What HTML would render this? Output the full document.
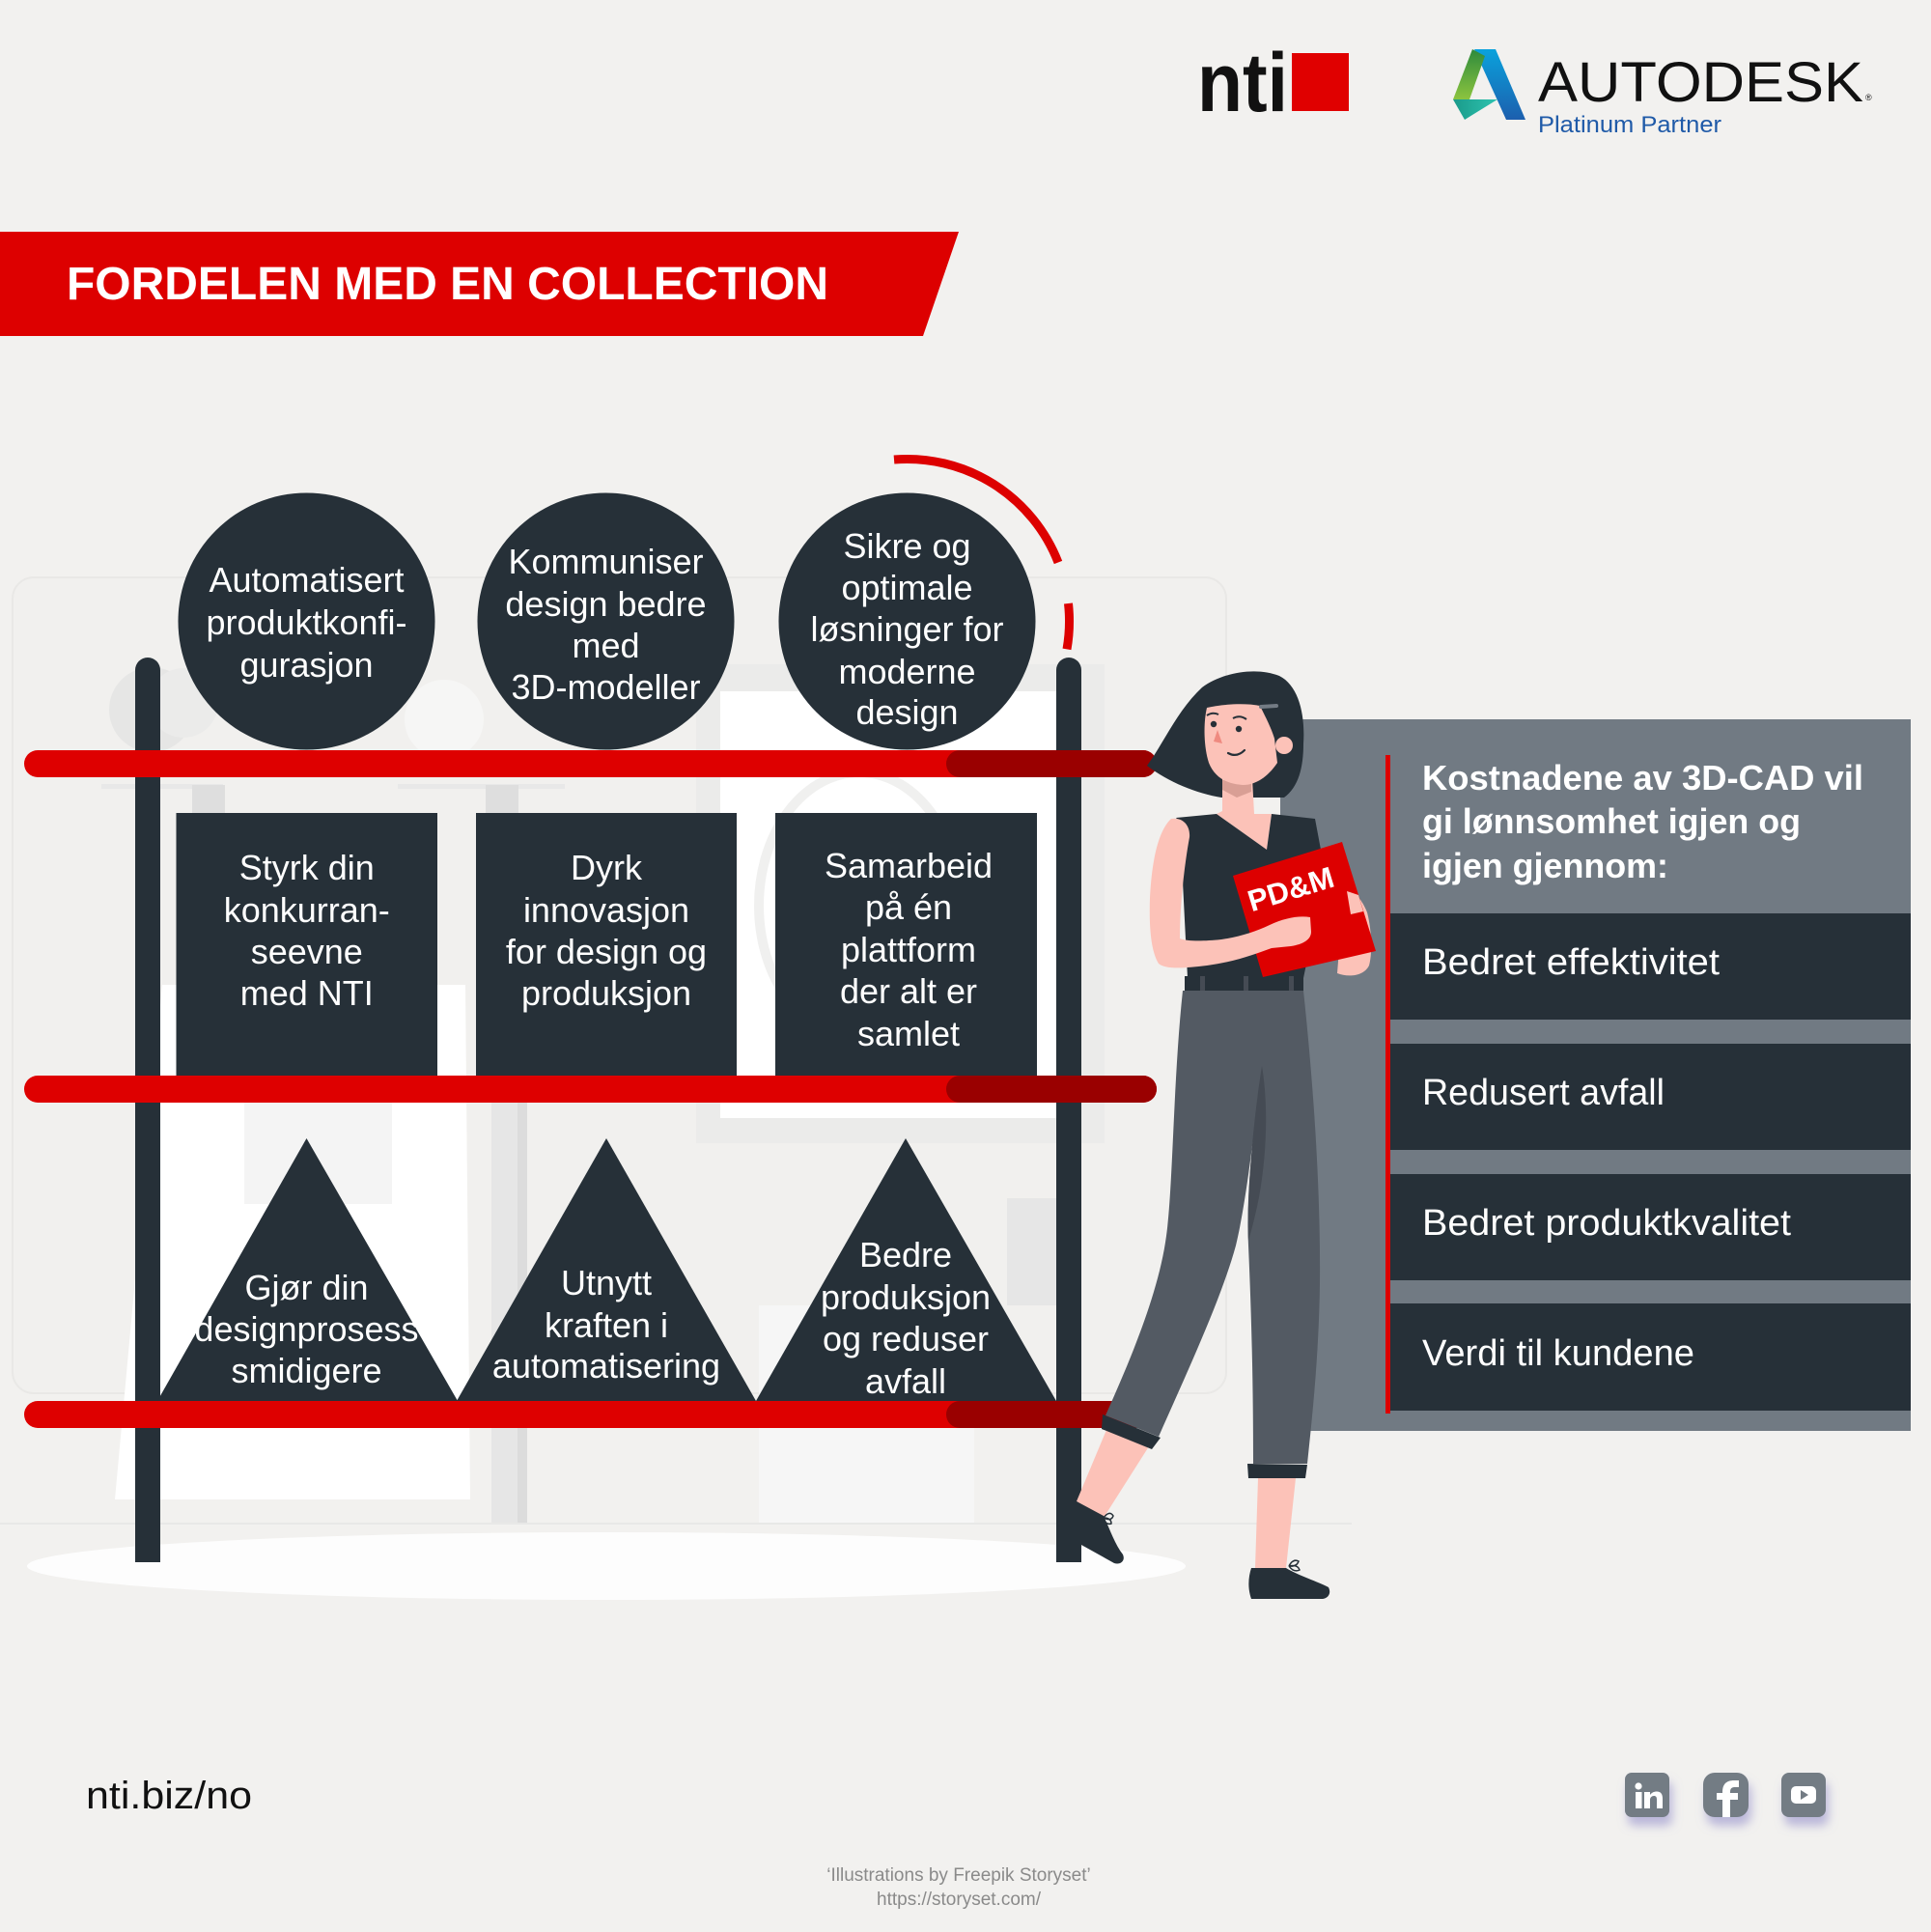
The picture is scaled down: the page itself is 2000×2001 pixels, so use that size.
<!DOCTYPE html>
<html>
<head>
<meta charset="utf-8">
<style>
html,body{margin:0;padding:0;background:#f2f1ef;}
svg{display:block;}
text{font-family:"Liberation Sans", "DejaVu Sans", sans-serif;}
</style>
</head>
<body>
<svg width="2000" height="2001" viewBox="0 0 2000 2001" xmlns="http://www.w3.org/2000/svg">
<defs>
  <linearGradient id="gBlue" x1="0" y1="0" x2="0" y2="1">
    <stop offset="0" stop-color="#0aa2dc"/>
    <stop offset="1" stop-color="#1c5fae"/>
  </linearGradient>
  <linearGradient id="gGreen" x1="0" y1="0" x2="0" y2="1">
    <stop offset="0" stop-color="#2e8a3c"/>
    <stop offset="1" stop-color="#8cc43f"/>
  </linearGradient>
  <linearGradient id="gTeal" x1="0" y1="0" x2="1" y2="0">
    <stop offset="0" stop-color="#1a9a8a"/>
    <stop offset="1" stop-color="#2ec4b0"/>
  </linearGradient>
  <filter id="sh" x="-50%" y="-50%" width="200%" height="220%">
    <feGaussianBlur in="SourceAlpha" stdDeviation="5"/>
    <feOffset dx="3" dy="9" result="b"/>
    <feFlood flood-color="#8d88c8" flood-opacity="0.55"/>
    <feComposite in2="b" operator="in"/>
    <feMerge><feMergeNode/><feMergeNode in="SourceGraphic"/></feMerge>
  </filter>
</defs>

<rect x="0" y="0" width="2000" height="2001" fill="#f2f1ef"/>

<!-- ===== Header logos ===== -->
<text x="1240" y="115" font-size="86" font-weight="bold" fill="#111" textLength="94" lengthAdjust="spacingAndGlyphs">nti</text>
<rect x="1338" y="55" width="59" height="60" fill="#e00000"/>

<polygon points="1527,51 1549,51 1580,124 1560,124" fill="url(#gBlue)"/>
<polygon points="1525,51 1538,58 1522,103 1505,103" fill="url(#gGreen)"/>
<polygon points="1505,103 1551,103 1517,124" fill="url(#gTeal)"/>
<text x="1593" y="105" font-size="58" fill="#111" textLength="337" lengthAdjust="spacingAndGlyphs">AUTODESK</text>
<text x="1932" y="104" font-size="9" fill="#111">®</text>
<text x="1593" y="137" font-size="24" fill="#1f5aa8" textLength="190" lengthAdjust="spacingAndGlyphs">Platinum Partner</text>

<!-- ===== Banner ===== -->
<polygon points="0,240 993,240 956,348 0,348" fill="#dd0000"/>
<text x="69" y="310" font-size="48" font-weight="bold" fill="#ffffff" textLength="789" lengthAdjust="spacingAndGlyphs">FORDELEN MED EN COLLECTION</text>

<!-- ===== Background illustration (faint) ===== -->
<rect x="13" y="598" width="1257" height="845" rx="22" fill="#f1f0ee" stroke="#e9e8e6" stroke-width="2"/>
<rect x="721" y="688" width="423" height="496" fill="#ebebea"/>
<rect x="746" y="716" width="349" height="442" fill="#ffffff"/>
<ellipse cx="890" cy="938" rx="104" ry="138" fill="none" stroke="#f0f0ef" stroke-width="10"/>
<circle cx="157" cy="735" r="44" fill="#e6e6e5"/>
<circle cx="190" cy="728" r="36" fill="#ebebea"/>
<circle cx="460" cy="745" r="41" fill="#f6f6f5"/>
<rect x="105" y="812" width="126" height="5" fill="#e8e8e8"/>
<rect x="199" y="813" width="34" height="29" fill="#dedede"/>
<rect x="412" y="812" width="173" height="5" fill="#e8e8e8"/>
<rect x="503" y="813" width="34" height="29" fill="#dedede"/>
<polygon points="168,1020 482,1020 487,1553 119,1553" fill="#ffffff"/>
<rect x="253" y="1142" width="153" height="105" fill="#f4f4f4"/>
<rect x="509" y="1142" width="37" height="436" fill="#e6e6e6"/>
<rect x="536" y="1142" width="10" height="436" fill="#dcdcdc"/>
<rect x="1043" y="1241" width="51" height="111" fill="#e6e6e6"/>
<rect x="786" y="1352" width="223" height="226" fill="#f6f6f6"/>
<rect x="0" y="1577" width="1400" height="2" fill="#e8e8e7"/>
<ellipse cx="628" cy="1622" rx="600" ry="35" fill="#fdfdfd"/>

<!-- ===== Right info panel ===== -->
<rect x="1326" y="745" width="653" height="737" fill="#717a83"/>
<rect x="1435" y="782" width="5" height="682" fill="#dd0000"/>
<rect x="1440" y="946" width="539" height="110" fill="#263038"/>
<rect x="1440" y="1081" width="539" height="110" fill="#263038"/>
<rect x="1440" y="1216" width="539" height="110" fill="#263038"/>
<rect x="1440" y="1350" width="539" height="111" fill="#263038"/>
<g fill="#ffffff" font-weight="bold" font-size="36">
  <text x="1473" y="818" textLength="457" lengthAdjust="spacingAndGlyphs">Kostnadene av 3D-CAD vil</text>
  <text x="1473" y="863" textLength="392" lengthAdjust="spacingAndGlyphs">gi lønnsomhet igjen og</text>
  <text x="1473" y="909" textLength="255" lengthAdjust="spacingAndGlyphs">igjen gjennom:</text>
</g>
<g fill="#ffffff" font-size="38">
  <text x="1473" y="1009" textLength="308" lengthAdjust="spacingAndGlyphs">Bedret effektivitet</text>
  <text x="1473" y="1144" textLength="251" lengthAdjust="spacingAndGlyphs">Redusert avfall</text>
  <text x="1473" y="1279" textLength="382" lengthAdjust="spacingAndGlyphs">Bedret produktkvalitet</text>
  <text x="1473" y="1414" textLength="282" lengthAdjust="spacingAndGlyphs">Verdi til kundene</text>
</g>

<!-- ===== Shelf ===== -->
<rect x="140" y="681" width="26" height="937" rx="13" fill="#263038"/>
<rect x="140" y="700" width="26" height="918" fill="#263038"/>
<rect x="1094" y="681" width="26" height="937" rx="13" fill="#263038"/>
<rect x="1094" y="700" width="26" height="918" fill="#263038"/>

<!-- circles -->
<circle cx="317.5" cy="643.5" r="133" fill="#263038"/>
<circle cx="627.5" cy="643.5" r="133" fill="#263038"/>
<circle cx="939.5" cy="643.5" r="133" fill="#263038"/>

<!-- boxes -->
<rect x="182.5" y="842" width="270.5" height="272" fill="#263038"/>
<rect x="493" y="842" width="270" height="272" fill="#263038"/>
<rect x="803" y="842" width="271" height="272" fill="#263038"/>

<!-- triangles -->
<polygon points="317.5,1179 474,1451 163,1451" fill="#263038"/>
<polygon points="628,1179 783,1451 473,1451" fill="#263038"/>
<polygon points="938,1179 1094,1451 783,1451" fill="#263038"/>

<!-- red bars -->
<rect x="25" y="777" width="1173" height="28" rx="14" fill="#de0000"/>
<rect x="980" y="777" width="218" height="28" rx="14" fill="#9a0000"/>
<rect x="25" y="1114" width="1173" height="28" rx="14" fill="#de0000"/>
<rect x="980" y="1114" width="218" height="28" rx="14" fill="#9a0000"/>
<rect x="25" y="1451" width="1173" height="28" rx="14" fill="#de0000"/>
<rect x="980" y="1451" width="218" height="28" rx="14" fill="#9a0000"/>

<!-- red arc -->
<path d="M926,476 A168,168 0 0,1 1096,582.5" fill="none" stroke="#dd0000" stroke-width="9"/>
<path d="M1106.5,625 A168,168 0 0,1 1105,672.4" fill="none" stroke="#dd0000" stroke-width="9"/>

<!-- shape labels -->
<g fill="#ffffff" font-size="36" text-anchor="middle">
  <text x="317.5" y="613">Automatisert</text>
  <text x="317.5" y="657">produktkonfi-</text>
  <text x="317.5" y="701">gurasjon</text>

  <text x="627.5" y="594">Kommuniser</text>
  <text x="627.5" y="638">design bedre</text>
  <text x="627.5" y="681">med</text>
  <text x="627.5" y="724">3D-modeller</text>

  <text x="939.5" y="578">Sikre og</text>
  <text x="939.5" y="621">optimale</text>
  <text x="939.5" y="664">løsninger for</text>
  <text x="939.5" y="708">moderne</text>
  <text x="939.5" y="750">design</text>

  <text x="317.75" y="911">Styrk din</text>
  <text x="317.75" y="955">konkurran-</text>
  <text x="317.75" y="998">seevne</text>
  <text x="317.75" y="1041">med NTI</text>

  <text x="628" y="911">Dyrk</text>
  <text x="628" y="955">innovasjon</text>
  <text x="628" y="998">for design og</text>
  <text x="628" y="1041">produksjon</text>

  <text x="941" y="909">Samarbeid</text>
  <text x="941" y="952">på én</text>
  <text x="941" y="996">plattform</text>
  <text x="941" y="1039">der alt er</text>
  <text x="941" y="1083">samlet</text>

  <text x="317.5" y="1346">Gjør din</text>
  <text x="317.5" y="1389">designprosess</text>
  <text x="317.5" y="1432">smidigere</text>

  <text x="628" y="1341">Utnytt</text>
  <text x="628" y="1385">kraften i</text>
  <text x="628" y="1427">automatisering</text>

  <text x="938" y="1312">Bedre</text>
  <text x="938" y="1356">produksjon</text>
  <text x="938" y="1399">og reduser</text>
  <text x="938" y="1443">avfall</text>
</g>

<!-- ===== Woman ===== -->
<!-- hair -->
<path d="M1188,793 C1205,770 1220,735 1245,712 C1265,697 1300,690 1325,700 C1345,710 1352,740 1350,770 C1350,795 1345,815 1330,826 L1265,826 C1240,822 1210,810 1188,793 Z" fill="#263038"/>
<!-- neck + V -->
<polygon points="1266,806 1297,806 1299,843 1317,843 1312,880 1260,843 1266,840" fill="#fcc2b8"/>
<polygon points="1266,808 1296,808 1296,820 1281,826 1266,818" fill="#d99f95"/>
<!-- face -->
<path d="M1250,733 C1268,729 1290,728 1305,731 C1312,745 1317,755 1320,765 L1323,790 C1313,805 1300,813 1288,813 C1270,812 1258,805 1252,790 C1247,775 1246,750 1250,733 Z" fill="#fcc2b8"/>
<circle cx="1330" cy="772" r="9" fill="#fcc2b8"/>
<circle cx="1257" cy="750" r="3.2" fill="#263038"/>
<circle cx="1283" cy="755" r="3.2" fill="#263038"/>
<path d="M1250,741 Q1256,737 1262,740" fill="none" stroke="#263038" stroke-width="2"/>
<path d="M1277,744 Q1284,740 1291,745" fill="none" stroke="#263038" stroke-width="2"/>
<polygon points="1261,756 1266,770 1257,768" fill="#ef8a80"/>
<path d="M1272,780 Q1281,785 1289,777" fill="none" stroke="#263038" stroke-width="2.2" stroke-linecap="round"/>
<line x1="1306" y1="732" x2="1322" y2="731" stroke="#737b84" stroke-width="4" stroke-linecap="round"/>
<!-- shirt -->
<polygon points="1218,847 1260,843 1312,880 1317,843 1362,848 1368,880 1363,950 1350,1013 1230,1013 1225,913 1225,855" fill="#263038"/>
<!-- pants -->
<path d="M1225,1026 L1350,1026 C1360,1120 1368,1230 1367,1330 C1366,1400 1360,1460 1354,1516 L1298,1516 C1298,1450 1297,1380 1293,1290 C1290,1230 1300,1160 1307,1104 C1300,1160 1292,1240 1280,1290 C1265,1345 1230,1420 1200,1488 L1145,1466 C1170,1410 1200,1340 1208,1280 C1215,1230 1215,1120 1225,1026 Z" fill="#535a63"/>
<path d="M1307,1104 C1313,1140 1313,1190 1304,1240 C1300,1260 1296,1275 1293,1285 C1291,1240 1298,1160 1307,1104 Z" fill="#454b54"/>
<!-- belt -->
<rect x="1227" y="1011" width="123" height="15" fill="#263038"/>
<rect x="1243" y="1011" width="5" height="15" fill="#454b54"/>
<rect x="1288" y="1011" width="5" height="15" fill="#454b54"/>
<rect x="1335" y="1011" width="5" height="15" fill="#454b54"/>
<!-- left leg lower -->
<polygon points="1146,1481 1190,1498 1143,1572 1115,1555" fill="#fcc2b8"/>
<polygon points="1142,1465 1202,1489 1193,1501 1141,1480" fill="#263038"/>
<path d="M1115,1555 L1143,1570 C1150,1585 1155,1600 1163,1610 C1166,1617 1160,1621 1154,1619 L1120,1600 L1100,1590 L1102,1568 Z" fill="#263038"/>
<path d="M1143,1572 q6,-8 10,-2 q-2,6 -10,2 M1143,1572 q8,0 8,6 q-6,2 -8,-6" fill="none" stroke="#263038" stroke-width="1.5"/>
<!-- right leg lower -->
<polygon points="1303,1531 1342,1531 1332,1624 1300,1624" fill="#fcc2b8"/>
<polygon points="1292,1516 1354,1517 1352,1531 1293,1531" fill="#263038"/>
<path d="M1296,1624 L1332,1624 C1345,1632 1365,1638 1376,1644 C1379,1650 1376,1655 1370,1656 L1296,1656 C1292,1645 1293,1633 1296,1624 Z" fill="#263038"/>
<path d="M1335,1622 q4,-8 10,-5 q-2,6 -10,5 M1335,1622 q9,-2 11,4 q-6,3 -11,-4" fill="none" stroke="#263038" stroke-width="1.5"/>
<!-- right hand behind folder -->
<path d="M1392,922 C1402,922 1410,930 1416,945 C1420,960 1422,985 1418,1000 C1412,1012 1395,1012 1385,1008 Z" fill="#fcc2b8"/>
<!-- folder -->
<polygon points="1277,907 1390,872 1425,985 1308,1012" fill="#dd0000"/>
<text x="1340" y="931" font-size="31" font-weight="bold" fill="#ffffff" text-anchor="middle" transform="rotate(-17 1340 931)">PD&amp;M</text>
<polygon points="1395,923 1407,927 1412,944 1399,947" fill="#fcc2b8"/>
<!-- left arm -->
<path d="M1213,848 C1200,860 1193,890 1191,930 C1190,960 1192,985 1200,998 C1207,1004 1225,1003 1250,1000 C1280,996 1300,988 1317,982 L1337,980 C1350,978 1358,973 1358,965 L1357,950 C1345,948 1330,951 1315,958 C1300,965 1285,970 1265,973 C1245,975 1230,975 1222,972 C1222,940 1226,900 1232,867 C1233,855 1225,846 1213,848 Z" fill="#fcc2b8"/>

<!-- ===== Footer ===== -->
<text x="89" y="1873" font-size="40" fill="#111" textLength="172" lengthAdjust="spacingAndGlyphs">nti.biz/no</text>

<g filter="url(#sh)">
  <rect x="1683" y="1836" width="46" height="46" rx="7" fill="#737b84"/>
  <rect x="1764" y="1836" width="47" height="46" rx="12" fill="#737b84"/>
  <rect x="1845" y="1836" width="46" height="46" rx="8" fill="#737b84"/>
</g>
<!-- linkedin glyph -->
<circle cx="1697" cy="1850" r="3.6" fill="#ffffff"/>
<rect x="1694" y="1856" width="6.5" height="17" fill="#ffffff"/>
<path d="M1703,1873 L1703,1856 L1709,1856 L1709,1859 C1711,1856 1714,1855.5 1716,1855.5 C1720,1855.5 1722,1858 1722,1863 L1722,1873 L1716,1873 L1716,1864 C1716,1861 1715,1860 1713,1860 C1711,1860 1709,1861.5 1709,1864 L1709,1873 Z" fill="#ffffff"/>
<!-- facebook glyph -->
<path d="M1784,1882 L1784,1856 C1784,1848 1788,1844 1796,1844 L1801,1844 L1801,1851 L1797,1851 C1794,1851 1792,1852 1792,1856 L1792,1882 Z" fill="#ffffff"/>
<rect x="1778" y="1857" width="22" height="7" fill="#ffffff"/>
<!-- youtube glyph -->
<rect x="1855" y="1850" width="26" height="18" rx="5" fill="#ffffff"/>
<polygon points="1865,1854 1873,1859 1865,1864" fill="#737b84"/>

<g fill="#8a8a8a" font-size="19" text-anchor="middle">
  <text x="993" y="1948">‘Illustrations by Freepik Storyset’</text>
  <text x="993" y="1973">https://storyset.com/</text>
</g>
</svg>
</body>
</html>
